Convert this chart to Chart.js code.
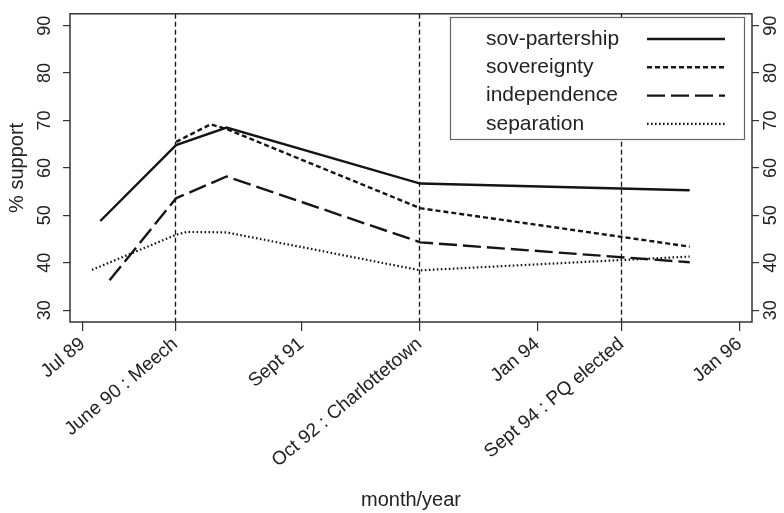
<!DOCTYPE html>
<html>
<head>
<meta charset="utf-8">
<script src="https://cdn.jsdelivr.net/npm/chart.js@4"></script>
<style>
  body { margin: 0; background: #fff; }
  #wrap { width: 784px; height: 513px; }
</style>
</head>
<body>
<div id="wrap"><canvas id="supportChart" width="784" height="513"></canvas></div>
<script>
// x values are months counted from Jan 1989
const tickMonths = [6, 17, 32, 46, 60, 70, 84];
const tickLabels = ['Jul 89', 'June 90 : Meech', 'Sept 91', 'Oct 92 : Charlottetown', 'Jan 94', 'Sept 94 : PQ elected', 'Jan 96'];
const eventMonths = [17, 46, 70];
const yTicks = [30, 40, 50, 60, 70, 80, 90];

const sovPartX = [8.1, 17.1, 23.1, 46.1, 78.1];
const sovPartY = [48.8, 64.8, 68.5, 56.7, 55.3];
const sovX = [17.1, 21.2, 23.1, 46.1, 78.1];
const sovY = [65.5, 69.2, 68.2, 51.5, 43.4];
const indX = [9.2, 17.1, 23.1, 46.1, 78.1];
const indY = [36.3, 53.6, 58.2, 44.3, 40.1];
const sepX = [7.1, 17.1, 18.4, 23.1, 46.1, 78.1];
const sepY = [38.5, 45.9, 46.5, 46.4, 38.4, 41.3];

const seriesNames = ['sov-partership', 'sovereignty', 'independence', 'separation'];

const FONT = 'Liberation Sans, Arial, sans-serif';
const INK = '#151515';

function pts(xs, ys) {
  return xs.map((x, i) => ({ x: x, y: ys[i] }));
}

// vertical dashed event lines
const eventLines = {
  id: 'eventLines',
  beforeDatasetsDraw(chart) {
    const ctx = chart.ctx;
    const area = chart.chartArea;
    const x = chart.scales.x;
    ctx.save();
    ctx.strokeStyle = INK;
    ctx.lineWidth = 1.3;
    ctx.setLineDash([5, 3]);
    eventMonths.forEach(m => {
      const px = Math.round(x.getPixelForValue(m)) + 0.5;
      ctx.beginPath();
      ctx.moveTo(px, area.top);
      ctx.lineTo(px, area.bottom);
      ctx.stroke();
    });
    ctx.restore();
  }
};

// frame, rotated y tick labels and boxed legend
const decorations = {
  id: 'decorations',
  afterDraw(chart) {
    const ctx = chart.ctx;
    const area = chart.chartArea;
    const y = chart.scales.y;
    ctx.save();

    ctx.strokeStyle = '#333';
    ctx.lineWidth = 1.5;
    ctx.setLineDash([]);
    ctx.strokeRect(area.left, area.top, area.right - area.left, area.bottom - area.top);

    ctx.fillStyle = '#222';
    ctx.font = '18px ' + FONT;
    ctx.textAlign = 'center';
    ctx.textBaseline = 'middle';
    yTicks.forEach(v => {
      const py = y.getPixelForValue(v);
      [area.left - 25, area.right + 19].forEach(px => {
        ctx.save();
        ctx.translate(px, py);
        ctx.rotate(-Math.PI / 2);
        ctx.fillText(String(v), 0, 0);
        ctx.restore();
      });
    });

    // legend
    const bx = 450.5, by = 17.5, bw = 294, bh = 122;
    ctx.fillStyle = '#fff';
    ctx.fillRect(bx, by, bw, bh);
    ctx.strokeStyle = '#666';
    ctx.lineWidth = 1.2;
    ctx.strokeRect(bx, by, bw, bh);
    ctx.font = '21px ' + FONT;
    ctx.textAlign = 'left';
    chart.data.datasets.forEach((ds, i) => {
      const ry = 39 + i * 28.3;
      ctx.fillStyle = '#222';
      ctx.fillText(ds.label, 486, ry);
      ctx.strokeStyle = ds.borderColor;
      ctx.lineWidth = ds.borderWidth;
      ctx.setLineDash(ds.borderDash || []);
      ctx.beginPath();
      ctx.moveTo(647, ry);
      ctx.lineTo(725, ry);
      ctx.stroke();
    });
    ctx.restore();
  }
};

const ctx = document.getElementById('supportChart').getContext('2d');
new Chart(ctx, {
  type: 'line',
  data: {
    datasets: [
      { label: seriesNames[0], data: pts(sovPartX, sovPartY), borderColor: INK, borderWidth: 2.4, borderDash: [] },
      { label: seriesNames[1], data: pts(sovX, sovY), borderColor: INK, borderWidth: 2.4, borderDash: [5, 3] },
      { label: seriesNames[2], data: pts(indX, indY), borderColor: INK, borderWidth: 2.4, borderDash: [18, 6] },
      { label: seriesNames[3], data: pts(sepX, sepY), borderColor: INK, borderWidth: 2.2, borderDash: [1.6, 2.4] }
    ]
  },
  options: {
    responsive: false,
    animation: false,
    layout: { padding: { top: 11, left: 0, right: 0, bottom: 0 } },
    elements: { point: { radius: 0 }, line: { tension: 0 } },
    plugins: {
      legend: { display: false },
      tooltip: { enabled: false }
    },
    scales: {
      x: {
        type: 'linear',
        min: 4.5,
        max: 85.5,
        afterBuildTicks: s => { s.ticks = tickMonths.map(v => ({ value: v })); },
        afterFit: s => { s.height = 191; },
        border: { display: false },
        grid: { drawOnChartArea: false, drawTicks: true, tickLength: 9, color: '#333', lineWidth: 1.2 },
        ticks: {
          autoSkip: false,
          minRotation: 40,
          maxRotation: 40,
          padding: 2,
          color: '#222',
          font: { family: FONT, size: 19 },
          callback: v => tickLabels[tickMonths.indexOf(v)]
        },
        title: {
          display: true,
          text: 'month/year',
          color: '#222',
          font: { family: 'Liberation Sans Narrow, Arial Narrow, ' + FONT, size: 20 },
          padding: { top: 0, bottom: 1 }
        }
      },
      y: {
        position: 'left',
        min: 27.5,
        max: 92.5,
        afterBuildTicks: s => { s.ticks = yTicks.map(v => ({ value: v })); },
        afterFit: s => { s.width = 70; },
        border: { display: false },
        grid: { drawOnChartArea: false, drawTicks: true, tickLength: 7, color: '#333', lineWidth: 1.2 },
        ticks: { color: 'rgba(0,0,0,0)', font: { family: FONT, size: 18 } },
        title: {
          display: true,
          text: '% support',
          color: '#222',
          font: { family: FONT, size: 20 },
          padding: { top: 5, bottom: 0 }
        }
      },
      y2: {
        position: 'right',
        min: 27.5,
        max: 92.5,
        afterBuildTicks: s => { s.ticks = yTicks.map(v => ({ value: v })); },
        afterFit: s => { s.width = 32; },
        border: { display: false },
        grid: { drawOnChartArea: false, drawTicks: true, tickLength: 7, color: '#333', lineWidth: 1.2 },
        ticks: { color: 'rgba(0,0,0,0)', font: { family: FONT, size: 18 } }
      }
    }
  },
  plugins: [eventLines, decorations]
});
</script>
</body>
</html>
